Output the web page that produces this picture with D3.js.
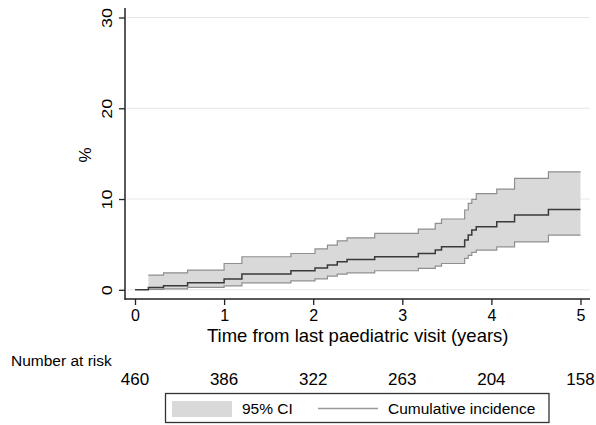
<!DOCTYPE html>
<html>
<head>
<meta charset="utf-8">
<script src="https://cdn.jsdelivr.net/npm/d3@7"></script>
<style>
  html, body { margin: 0; padding: 0; background: #fff; }
  svg { display: block; font-family: "Liberation Sans", Arial, sans-serif; }
</style>
</head>
<body>
<svg id="chart" width="596" height="425"></svg>
<script>
// ---- data ----
const stepTimes = [0, 0.15, 0.32, 0.59, 1.0, 1.2, 1.75, 2.02, 2.16, 2.27, 2.38, 2.69, 3.18, 3.37, 3.44, 3.70, 3.74, 3.78, 3.83, 4.06, 4.26, 4.64];
const estimate  = [0, 0.26, 0.44, 0.77, 1.2, 1.73, 2.1, 2.4, 2.72, 3.09, 3.35, 3.64, 4.0, 4.38, 4.74, 5.48, 6.03, 6.58, 6.95, 7.5, 8.24, 8.86];
const lowerCI   = [0, 0.04, 0.11, 0.26, 0.44, 0.77, 0.99, 1.2, 1.51, 1.73, 1.87, 2.1, 2.36, 2.61, 2.9, 3.46, 3.8, 4.12, 4.38, 4.74, 5.29, 6.03];
const upperCI   = [0, 1.62, 1.87, 2.17, 2.9, 3.64, 4.0, 4.5, 4.93, 5.4, 5.73, 6.22, 6.69, 7.32, 7.8, 8.79, 9.52, 9.97, 10.6, 11.1, 12.28, 13.0];
const endTime = 5.0;
const xTicks = [0, 1, 2, 3, 4, 5];
const yTicks = [0, 10, 20, 30];
const atRiskYears = [0, 1, 2, 3, 4, 5];
const atRiskCounts = [460, 386, 322, 263, 204, 158];

const svg = d3.select("#chart");
const x = d3.scaleLinear().domain([0, 5]).range([135, 580.5]);
const y = d3.scaleLinear().domain([0, 30]).range([289.8, 17.5]);

// build step rows, with final row at end time
const rows = stepTimes.map((t, i) => ({t, est: estimate[i], lo: lowerCI[i], hi: upperCI[i]}));
rows.push({t: endTime, est: estimate[estimate.length - 1], lo: lowerCI[lowerCI.length - 1], hi: upperCI[upperCI.length - 1]});
const bandRows = rows.slice(1);

// gridlines
svg.append("g").selectAll("line").data(yTicks).join("line")
  .attr("x1", 127).attr("x2", 590)
  .attr("y1", d => y(d)).attr("y2", d => y(d))
  .attr("stroke", "#e6e6e6").attr("stroke-width", 1);

// CI band
const area = d3.area().curve(d3.curveStepAfter)
  .x(d => x(d.t)).y0(d => y(d.lo)).y1(d => y(d.hi));
svg.append("path").datum(bandRows).attr("d", area)
  .attr("fill", "#d9d9d9").attr("stroke", "none");

const lineOf = key => d3.line().curve(d3.curveStepAfter).x(d => x(d.t)).y(d => y(d[key]));
svg.append("path").datum(bandRows).attr("d", lineOf("hi"))
  .attr("fill", "none").attr("stroke", "#8f8f8f").attr("stroke-width", 1.2);
svg.append("path").datum(bandRows).attr("d", lineOf("lo"))
  .attr("fill", "none").attr("stroke", "#8f8f8f").attr("stroke-width", 1.2);
svg.append("path").datum(rows).attr("d", lineOf("est"))
  .attr("fill", "none").attr("stroke", "#3a3a3a").attr("stroke-width", 1.5);

// axes
const xAxis = d3.axisBottom(x).tickValues(xTicks).tickSize(6).tickPadding(4).tickFormat(d3.format("d"));
const gx = svg.append("g").attr("transform", "translate(0,299)").call(xAxis);
gx.select(".domain").remove();
gx.append("line").attr("x1", 124.5).attr("x2", 590).attr("y1", 0).attr("y2", 0)
  .attr("stroke", "#222").attr("stroke-width", 1.5);
gx.selectAll(".tick line").attr("stroke", "#222").attr("stroke-width", 1.3);
gx.selectAll(".tick text").attr("font-size", 16).attr("fill", "#000")
  .attr("font-family", "Liberation Sans, Arial, sans-serif").attr("dy", "0.71em").attr("y", 11);

const yAxis = d3.axisLeft(y).tickValues(yTicks).tickSize(6).tickFormat(d3.format("d"));
const gy = svg.append("g").attr("transform", "translate(125,0)").call(yAxis);
gy.select(".domain").remove();
gy.append("line").attr("x1", 0).attr("x2", 0).attr("y1", 8).attr("y2", 299.7)
  .attr("stroke", "#222").attr("stroke-width", 1.5);
gy.selectAll(".tick line").attr("stroke", "#222").attr("stroke-width", 1.3);
gy.selectAll(".tick text")
  .attr("font-size", 18).attr("fill", "#000")
  .attr("font-family", "Liberation Sans, Arial, sans-serif")
  .attr("x", null).attr("dy", null)
  .attr("text-anchor", "middle")
  .attr("transform", "translate(-13.5,0) rotate(-90) scale(1,0.85)");

// axis titles
svg.append("text").attr("x", (x(0) + x(5)) / 2).attr("y", 341.5)
  .attr("text-anchor", "middle").attr("font-size", 18.5).attr("fill", "#000")
  .text("Time from last paediatric visit (years)");
svg.append("text").attr("transform", "translate(91,155) rotate(-90)")
  .attr("text-anchor", "middle").attr("font-size", 17).attr("fill", "#000")
  .text("%");

// number at risk
svg.append("text").attr("x", 11).attr("y", 366).attr("font-size", 15.5).attr("fill", "#000")
  .text("Number at risk");
svg.append("g").selectAll("text").data(atRiskYears).join("text")
  .attr("x", d => x(d)).attr("y", 384.5).attr("text-anchor", "middle")
  .attr("font-size", 17).attr("fill", "#000")
  .text((d, i) => atRiskCounts[i]);

// legend
const lg = svg.append("g");
lg.append("rect").attr("x", 165.5).attr("y", 393.5).attr("width", 383.5).attr("height", 29)
  .attr("fill", "#fff").attr("stroke", "#333").attr("stroke-width", 1.3);
lg.append("rect").attr("x", 172).attr("y", 401).attr("width", 60).attr("height", 16)
  .attr("fill", "#d9d9d9");
lg.append("text").attr("x", 242).attr("y", 414).attr("font-size", 15.5).attr("fill", "#000").text("95% CI");
lg.append("line").attr("x1", 318).attr("x2", 378).attr("y1", 408.5).attr("y2", 408.5)
  .attr("stroke", "#999").attr("stroke-width", 1.3);
lg.append("text").attr("x", 388).attr("y", 414).attr("font-size", 15.5).attr("fill", "#000").text("Cumulative incidence");
</script>
</body>
</html>
